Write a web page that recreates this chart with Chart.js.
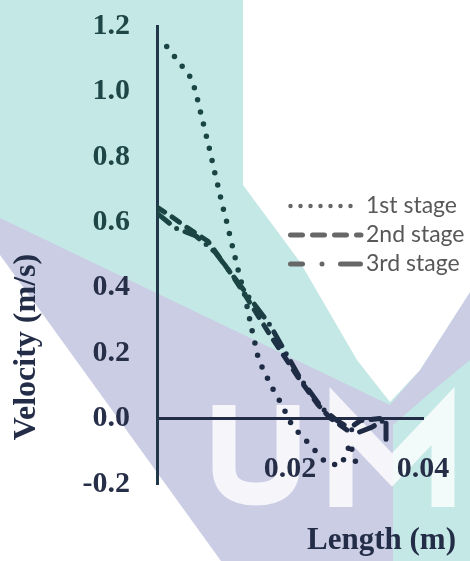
<!DOCTYPE html>
<html>
<head>
<meta charset="utf-8">
<title>Velocity along length</title>
<script src="https://cdn.jsdelivr.net/npm/chart.js@4.4.1/dist/chart.umd.min.js"></script>
<style>
  html, body { margin: 0; padding: 0; background: #ffffff; }
  canvas { display: block; }
</style>
</head>
<body>
<canvas id="chart" width="470" height="561"></canvas>
<script>
// Velocity profile along the length for three stages
const seriesNames = ['1st stage', '2nd stage', '3rd stage'];

const stage1Length   = [0.00146, 0.00266, 0.00386, 0.00516, 0.00582, 0.00627, 0.00672, 0.00717, 0.00762, 0.00808,
                        0.00847, 0.00892, 0.00937, 0.00977, 0.01027, 0.01072, 0.01117, 0.01162, 0.01208, 0.01253,
                        0.01313, 0.01383, 0.01424, 0.01469, 0.01508, 0.01544, 0.01629, 0.01714, 0.01809, 0.01899,
                        0.02041, 0.02176, 0.02301, 0.02426, 0.02526, 0.02741, 0.02842, 0.02902, 0.02952, 0.03012];
const stage1Velocity = [1.137, 1.106, 1.075, 1.040, 0.999, 0.960, 0.922, 0.885, 0.846, 0.809,
                        0.770, 0.732, 0.694, 0.656, 0.619, 0.580, 0.541, 0.503, 0.464, 0.428,
                        0.384, 0.314, 0.274, 0.234, 0.197, 0.172, 0.138, 0.100, 0.068, 0.033,
                        -0.025, -0.052, -0.081, -0.109, -0.132, -0.145, -0.114, -0.074, -0.111, -0.148];

const stage2Length   = [0, 0.00165, 0.00466, 0.00767, 0.01128, 0.01323, 0.01699, 0.02120, 0.02421, 0.02602, 0.02857, 0.03053, 0.03429];
const stage2Velocity = [0.646, 0.625, 0.582, 0.542, 0.439, 0.378, 0.256, 0.127, 0.042, 0.002, -0.035, -0.007, 0.002];

const stage3Length   = [0, 0.00271, 0.00586, 0.00872, 0.01248, 0.01699, 0.02150, 0.02481, 0.02692, 0.03008, 0.03233, 0.03444, 0.03444];
const stage3Velocity = [0.628, 0.583, 0.558, 0.509, 0.408, 0.286, 0.124, 0.032, -0.004, -0.044, -0.026, -0.001, -0.072];

const xTickValues = [0.02, 0.04];
const xTickLabels = ['0.02', '0.04'];
const yTickValues = [-0.2, 0, 0.2, 0.4, 0.6, 0.8, 1.0, 1.2];
const yTickLabels = ['-0.2', '0.0', '0.2', '0.4', '0.6', '0.8', '1.0', '1.2'];

const xTitle = 'Length (m)';
const yTitle = 'Velocity (m/s)';

const serif = '"Liberation Serif", Tinos, "Times New Roman", Times, "Nimbus Roman", FreeSerif, "Noto Serif", "DejaVu Serif", serif';

const toPoints = (xs, ys) => xs.map((x, i) => ({ x: x, y: ys[i] }));

// Ink colour shifts from dark teal to dark navy down the plot
function inkGradient(context) {
  const chart = context.chart;
  const area = chart.chartArea;
  if (!area) return '#1f3d4a';
  const g = chart.ctx.createLinearGradient(0, area.top, 0, area.bottom);
  g.addColorStop(0, '#1a4646');
  g.addColorStop(0.6, '#1b4444');
  g.addColorStop(0.72, '#1e2c46');
  g.addColorStop(1, '#202843');
  return g;
}

// Pale background shapes behind the plot
const watermark = {
  id: 'watermark',
  beforeDraw(chart) {
    const ctx = chart.ctx;
    ctx.save();
    const poly = (pts, color) => {
      ctx.beginPath();
      pts.forEach(([x, y], i) => (i ? ctx.lineTo(x, y) : ctx.moveTo(x, y)));
      ctx.closePath();
      ctx.fillStyle = color;
      ctx.fill();
    };
    ctx.fillStyle = '#c4e8e5';
    ctx.fillRect(0, 0, chart.width, chart.height);
    poly([[0, 218], [390, 405], [420, 370], [470, 292], [470, 360], [430, 393], [393, 425], [393, 561], [0, 561]], '#cacde4');
    poly([[0, 255], [221, 561], [0, 561]], '#ffffff');
    poly([[243, 0], [470, 0], [470, 292], [420, 370], [390, 402], [357, 360], [300, 262], [243, 185]], '#ffffff');

    ctx.strokeStyle = 'rgba(255,255,255,0.8)';
    ctx.lineWidth = 23;
    ctx.lineJoin = 'miter';
    ctx.lineCap = 'butt';
    // U
    ctx.beginPath();
    ctx.moveTo(224, 405);
    ctx.lineTo(224, 468);
    ctx.quadraticCurveTo(224, 494, 256, 494);
    ctx.quadraticCurveTo(288, 494, 288, 468);
    ctx.lineTo(288, 405);
    ctx.stroke();
    // M
    ctx.beginPath();
    ctx.moveTo(341, 507);
    ctx.lineTo(341, 416);
    ctx.lineTo(392, 470);
    ctx.lineTo(443, 416);
    ctx.lineTo(443, 507);
    ctx.stroke();
    ctx.restore();
  }
};

// Legend in the upper right of the plot
const legendStyles = [
  { dash: [0, 10], width: 4.5, end: 351 },
  { dash: [12, 10], width: 5, end: 361 },
  { dash: [12, 19.5, 0, 18.5, 20, 100], width: 5, end: 361 }
];
const stageLegend = {
  id: 'stageLegend',
  afterDraw(chart) {
    const ctx = chart.ctx;
    ctx.save();
    chart.data.datasets.forEach((ds, i) => {
      const y = 206 + i * 29;
      const st = legendStyles[i];
      ctx.beginPath();
      ctx.setLineDash(st.dash);
      ctx.lineCap = 'round';
      ctx.lineWidth = st.width;
      ctx.strokeStyle = '#676767';
      ctx.moveTo(290.5, y);
      ctx.lineTo(st.end, y);
      ctx.stroke();
      ctx.setLineDash([]);
      ctx.font = '23px Lato, "Open Sans", sans-serif';
      ctx.fillStyle = '#585858';
      ctx.textAlign = 'left';
      ctx.textBaseline = 'middle';
      ctx.fillText(ds.label, 366, y);
    });
    ctx.restore();
  }
};

// Axis titles
const axisTitles = {
  id: 'axisTitles',
  afterDraw(chart) {
    const ctx = chart.ctx;
    ctx.save();
    ctx.fillStyle = '#232d47';
    ctx.textBaseline = 'middle';
    ctx.font = 'bold 31px ' + serif;
    ctx.textAlign = 'right';
    ctx.fillText(xTitle, 456, 541);
    ctx.font = 'bold 32px ' + serif;
    ctx.translate(27, 347);
    ctx.rotate(-Math.PI / 2);
    ctx.textAlign = 'center';
    ctx.fillText(yTitle, 0, 0);
    ctx.restore();
  }
};

// Scales keep no extra edge padding so the plot box follows layout.padding
const noEdgePadding = (scale) => {
  scale.paddingTop = 0;
  scale.paddingBottom = 0;
  scale.paddingLeft = 0;
  scale.paddingRight = 0;
};

const lineBase = {
  borderColor: inkGradient,
  borderCapStyle: 'round',
  borderJoinStyle: 'round',
  pointRadius: 0,
  tension: 0,
  fill: false
};

new Chart(document.getElementById('chart'), {
  type: 'line',
  data: {
    datasets: [
      Object.assign({}, lineBase, {
        label: seriesNames[0],
        data: toPoints(stage1Length, stage1Velocity),
        borderWidth: 5.5,
        borderDash: [0, 12.5]
      }),
      Object.assign({}, lineBase, {
        label: seriesNames[1],
        data: toPoints(stage2Length, stage2Velocity),
        borderWidth: 5,
        borderDash: [9, 9]
      }),
      Object.assign({}, lineBase, {
        label: seriesNames[2],
        data: toPoints(stage3Length, stage3Velocity),
        borderWidth: 5,
        borderDash: [16, 9, 0, 9]
      })
    ]
  },
  options: {
    responsive: false,
    devicePixelRatio: 1,
    animation: false,
    layout: { padding: { top: 26, right: 47, bottom: 77, left: 0 } },
    plugins: {
      legend: { display: false },
      tooltip: { enabled: false },
      title: { display: false }
    },
    scales: {
      x: {
        type: 'linear',
        min: 0,
        max: 0.04,
        position: { y: 0 },
        grid: { display: false, drawTicks: false },
        border: { display: true, color: '#222c46', width: 3 },
        afterBuildTicks: (scale) => { scale.ticks = xTickValues.map(v => ({ value: v })); },
        afterFit: noEdgePadding,
        ticks: {
          padding: 33,
          color: '#252d47',
          font: { family: serif, weight: 'bold', size: 30 },
          callback: (v, i) => xTickLabels[i]
        }
      },
      y: {
        type: 'linear',
        min: -0.2,
        max: 1.2,
        position: 'left',
        grid: { display: false, drawTicks: false },
        border: { display: true, color: '#20384a', width: 3 },
        afterBuildTicks: (scale) => { scale.ticks = yTickValues.map(v => ({ value: v })); },
        afterFit: (scale) => { noEdgePadding(scale); scale.width = 157; },
        ticks: {
          padding: 27,
          color: (ctx) => (ctx.tick && ctx.tick.value >= 0.5 ? '#1e4646' : '#262e48'),
          font: { family: serif, weight: 'bold', size: 30 },
          callback: (v, i) => yTickLabels[i]
        }
      }
    }
  },
  plugins: [watermark, stageLegend, axisTitles]
});
</script>
</body>
</html>
